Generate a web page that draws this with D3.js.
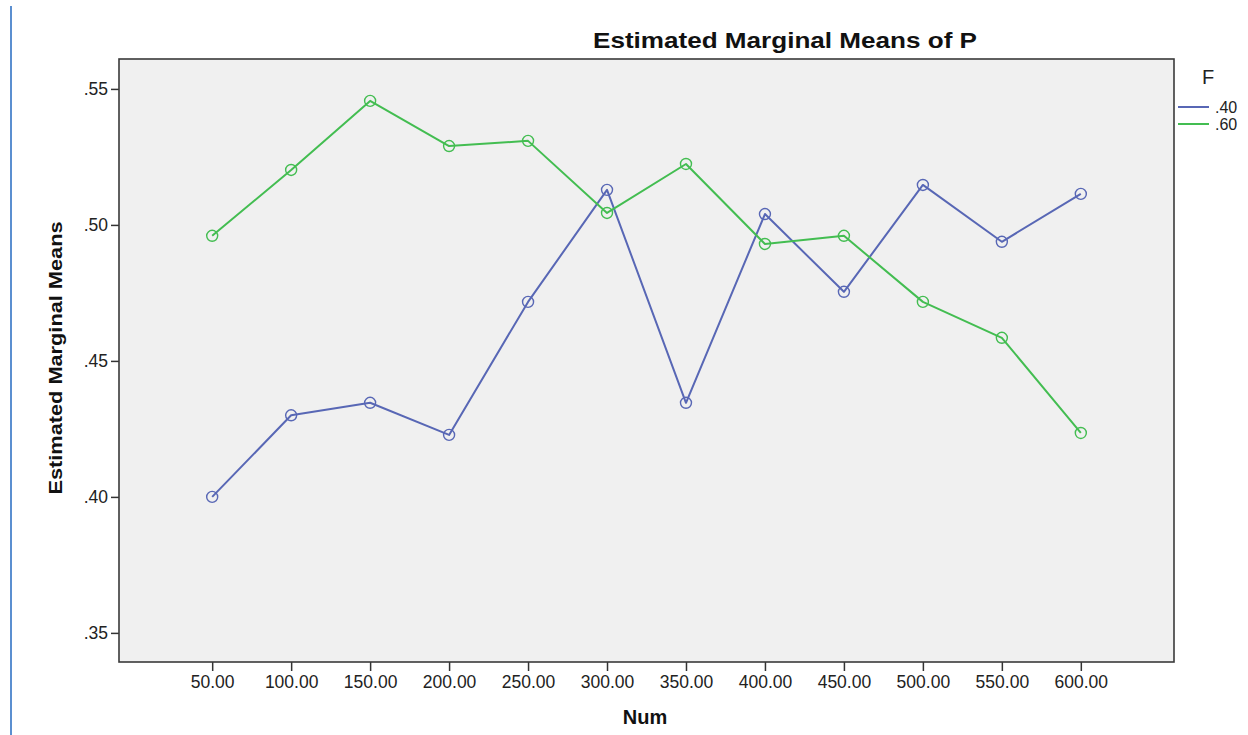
<!DOCTYPE html>
<html>
<head>
<meta charset="utf-8">
<script src="https://cdn.jsdelivr.net/npm/d3@7/dist/d3.min.js"></script>
<style>
  html, body { margin: 0; padding: 0; background: #ffffff; }
  svg { display: block; font-family: "Liberation Sans", Arial, sans-serif; }
</style>
</head>
<body>
<svg id="chart" width="1248" height="735"></svg>
<script>
// Estimated marginal means of P by Num, one line per level of F
const categories = ["50.00", "100.00", "150.00", "200.00", "250.00", "300.00",
                    "350.00", "400.00", "450.00", "500.00", "550.00", "600.00"];
const seriesF40 = [0.400, 0.430, 0.4346, 0.4228, 0.4717, 0.5129,
                   0.4346, 0.5040, 0.4754, 0.5147, 0.4938, 0.5114];
const seriesF60 = [0.4960, 0.5202, 0.5456, 0.5290, 0.5309, 0.5044,
                   0.5224, 0.4930, 0.4960, 0.4717, 0.4585, 0.4235];
const seriesNames = [".40", ".60"];
const yTicks = [0.35, 0.40, 0.45, 0.50, 0.55];

const series = [
  { name: seriesNames[0], values: seriesF40, color: "#5867b5" },
  { name: seriesNames[1], values: seriesF60, color: "#43bd51" }
];

const svg = d3.select("#chart");
const plot = { left: 119, right: 1174, top: 59, bottom: 662 };

const x = d3.scalePoint()
  .domain(categories)
  .range([plot.left, plot.right])
  .padding(1.18);

const y = d3.scaleLinear()
  .domain([0.3393, 0.5610])
  .range([plot.bottom, plot.top]);

// thin vertical rule at the left edge of the page
svg.append("line")
  .attr("x1", 11).attr("x2", 11)
  .attr("y1", 6).attr("y2", 735)
  .attr("stroke", "#5b8fd0").attr("stroke-width", 2);

// plot background
svg.append("rect")
  .attr("x", plot.left).attr("y", plot.top)
  .attr("width", plot.right - plot.left)
  .attr("height", plot.bottom - plot.top)
  .attr("fill", "#f0f0f0");

// axes
const xAxis = d3.axisBottom(x).tickSizeInner(9).tickSizeOuter(0).tickPadding(5);
const yAxis = d3.axisLeft(y).tickValues(yTicks)
  .tickFormat(d => d3.format(".2f")(d).replace(/^0/, ""))
  .tickSizeInner(8).tickSizeOuter(0).tickPadding(3);

const gx = svg.append("g")
  .attr("transform", `translate(0,${plot.bottom})`)
  .call(xAxis);
gx.select(".domain").remove();
gx.selectAll(".tick line").attr("stroke", "#333").attr("stroke-width", 1.5);
gx.selectAll(".tick text")
  .attr("fill", "#222").attr("font-size", 17.5)
  .attr("font-family", "Liberation Sans, Arial, sans-serif");

const gy = svg.append("g")
  .attr("transform", `translate(${plot.left},0)`)
  .call(yAxis);
gy.select(".domain").remove();
gy.selectAll(".tick line").attr("stroke", "#333").attr("stroke-width", 1.5);
gy.selectAll(".tick text")
  .attr("fill", "#222").attr("font-size", 17.5)
  .attr("font-family", "Liberation Sans, Arial, sans-serif");

// plot frame
svg.append("rect")
  .attr("x", plot.left).attr("y", plot.top)
  .attr("width", plot.right - plot.left)
  .attr("height", plot.bottom - plot.top)
  .attr("fill", "none")
  .attr("stroke", "#3a3a3a").attr("stroke-width", 1.6);

// lines and markers
const line = d3.line()
  .x((d, i) => x(categories[i]))
  .y(d => y(d));

series.forEach(s => {
  svg.append("path")
    .datum(s.values)
    .attr("d", line)
    .attr("fill", "none")
    .attr("stroke", s.color)
    .attr("stroke-width", 2)
    .attr("stroke-linejoin", "round");
  svg.append("g").selectAll("circle")
    .data(s.values)
    .join("circle")
    .attr("cx", (d, i) => x(categories[i]))
    .attr("cy", d => y(d))
    .attr("r", 5.5)
    .attr("fill", "none")
    .attr("stroke", s.color)
    .attr("stroke-width", 1.4);
});

// title
svg.append("text")
  .attr("x", 785).attr("y", 48)
  .attr("text-anchor", "middle")
  .attr("font-size", 22).attr("font-weight", "bold")
  .attr("textLength", 384).attr("lengthAdjust", "spacingAndGlyphs")
  .attr("fill", "#111")
  .text("Estimated Marginal Means of P");

// axis titles
svg.append("text")
  .attr("x", 645).attr("y", 724)
  .attr("text-anchor", "middle")
  .attr("font-size", 20).attr("font-weight", "bold")
  .attr("fill", "#111")
  .text("Num");

svg.append("text")
  .attr("transform", "translate(62,358) rotate(-90)")
  .attr("text-anchor", "middle")
  .attr("font-size", 19).attr("font-weight", "bold")
  .attr("font-family", "Liberation Sans Narrow, Liberation Sans, Arial, sans-serif")
  .attr("textLength", 273).attr("lengthAdjust", "spacingAndGlyphs")
  .attr("fill", "#111")
  .text("Estimated Marginal Means");

// legend
const legend = svg.append("g");
legend.append("text")
  .attr("x", 1208).attr("y", 84)
  .attr("text-anchor", "middle")
  .attr("font-size", 20).attr("fill", "#222")
  .text("F");

const rows = legend.selectAll("g.row")
  .data(series)
  .join("g")
  .attr("class", "row")
  .attr("transform", (d, i) => `translate(1178,${107 + i * 17})`);
rows.append("line")
  .attr("x1", 0).attr("x2", 31)
  .attr("stroke", d => d.color).attr("stroke-width", 2);
rows.append("text")
  .attr("x", 37).attr("y", 6)
  .attr("font-size", 16).attr("fill", "#222")
  .text(d => d.name);
</script>
</body>
</html>
